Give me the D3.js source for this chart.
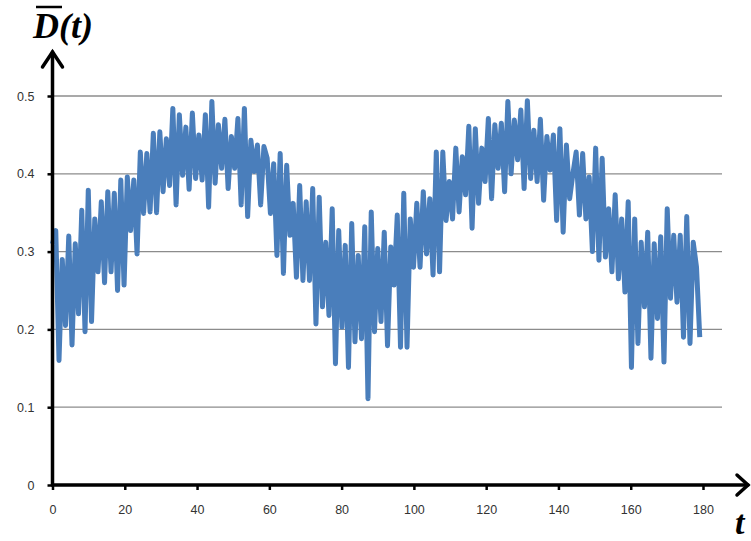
<!DOCTYPE html>
<html>
  <head>
    <meta charset="UTF-8">
    <title>D(t)</title>
    <style>
      body {
        margin: 0;
        background: #fff;
      }
      svg text.tick-label {
        font-family: Arial, "Liberation Sans", sans-serif;
        font-size: 12.5px;
        fill: #333;
      }
      .title {
        font-family: "Times New Roman", "Liberation Serif", serif;
        font-weight: bold;
        font-style: italic;
        fill: #000;
      }
    </style>
    <script src="https://d3js.org/d3.v7.min.js"></script>
  </head>
  <body>
    <div class="graph1"></div>
    <script>
      var width = 751;
      var height = 541;

      // D(t) values, one every 0.9 of t, starting at t = 0
      var tStep = 0.9;
      var values = [
        0.31, 0.327, 0.16, 0.29, 0.205, 0.32, 0.18, 0.31, 0.22, 0.353,
        0.197, 0.379, 0.21, 0.342, 0.274, 0.364, 0.26, 0.377, 0.274, 0.375,
        0.25, 0.392, 0.257, 0.396, 0.327, 0.392, 0.297, 0.428, 0.349, 0.426,
        0.351, 0.452, 0.35, 0.454, 0.377, 0.445, 0.385, 0.484, 0.36, 0.476,
        0.398, 0.46, 0.38, 0.478, 0.394, 0.45, 0.392, 0.476, 0.357, 0.493,
        0.388, 0.463, 0.407, 0.47, 0.381, 0.448, 0.407, 0.471, 0.36, 0.484,
        0.345, 0.443, 0.403, 0.437, 0.36, 0.435, 0.42, 0.349, 0.413, 0.295,
        0.426, 0.272, 0.411, 0.321, 0.362, 0.267, 0.385, 0.263, 0.364, 0.263,
        0.381, 0.207, 0.37, 0.229, 0.312, 0.218, 0.355, 0.156, 0.327, 0.203,
        0.308, 0.151, 0.336, 0.184, 0.295, 0.188, 0.332, 0.111, 0.351, 0.197,
        0.304, 0.21, 0.325, 0.179, 0.306, 0.257, 0.347, 0.177, 0.375, 0.177,
        0.342, 0.28, 0.362, 0.28, 0.377, 0.297, 0.368, 0.27, 0.428, 0.274,
        0.428, 0.34, 0.39, 0.342, 0.433, 0.351, 0.422, 0.373, 0.461, 0.33,
        0.458, 0.362, 0.433, 0.39, 0.471, 0.368, 0.463, 0.407, 0.465, 0.377,
        0.493, 0.4, 0.469, 0.418, 0.482, 0.381, 0.494, 0.394, 0.456, 0.39,
        0.47, 0.366, 0.448, 0.405, 0.45, 0.34, 0.458, 0.325, 0.437, 0.368,
        0.40, 0.428, 0.347, 0.426, 0.342, 0.396, 0.3, 0.433, 0.289, 0.42,
        0.293, 0.355, 0.274, 0.373, 0.265, 0.342, 0.248, 0.364, 0.151, 0.342,
        0.182, 0.312, 0.229, 0.325, 0.163, 0.31, 0.214, 0.319, 0.158, 0.355,
        0.24, 0.321, 0.235, 0.321, 0.19, 0.345, 0.182, 0.312, 0.28, 0.19
      ];

      var xTicks = [0, 20, 40, 60, 80, 100, 120, 140, 160, 180];
      var yTicks = [0, 0.1, 0.2, 0.3, 0.4, 0.5];
      var yTickLabels = ["0", "0.1", "0.2", "0.3", "0.4", "0.5"];

      var svg = d3.select(".graph1").append("svg")
        .attr("width", width)
        .attr("height", height);

      var xScale = d3.scaleLinear().domain([0, 180]).range([52.5, 703]);
      var yScale = d3.scaleLinear().domain([0, 0.5]).range([485, 96]);

      // grid lines
      svg.append("g")
          .attr("class", "grid")
        .selectAll("line")
          .data(yTicks.slice(1))
        .enter().append("line")
          .attr("x1", xScale(0))
          .attr("x2", 722)
          .attr("y1", function(d) { return yScale(d); })
          .attr("y2", function(d) { return yScale(d); })
          .style("stroke", "#8c8c8c")
          .style("stroke-width", 1.3);

      // the series
      var line = d3.line()
        .x(function(d, i) { return xScale(i * tStep); })
        .y(function(d) { return yScale(d); });

      svg.append("path")
        .datum(values)
        .attr("d", line)
        .style("fill", "none")
        .style("stroke", "#4a7ebb")
        .style("stroke-width", 5)
        .style("stroke-linejoin", "round");

      // y axis ticks + labels
      var yAxis = d3.axisLeft(yScale)
        .tickValues(yTicks)
        .tickFormat(function(d, i) { return yTickLabels[i]; })
        .tickSizeInner(5)
        .tickSizeOuter(0)
        .tickPadding(13);

      var gy = svg.append("g")
        .attr("transform", "translate(" + xScale(0) + ",0)")
        .call(yAxis);
      gy.select(".domain").remove();
      gy.selectAll("line").style("stroke", "#000").style("stroke-width", 2.5);
      gy.selectAll("text").attr("class", "tick-label").attr("font-family", null).attr("font-size", null);

      // x axis ticks + labels
      var xAxis = d3.axisBottom(xScale)
        .tickValues(xTicks)
        .tickSizeInner(5)
        .tickSizeOuter(0)
        .tickPadding(15);

      var gx = svg.append("g")
        .attr("transform", "translate(0," + yScale(0) + ")")
        .call(xAxis);
      gx.select(".domain").remove();
      gx.selectAll("line").style("stroke", "#000").style("stroke-width", 2.5);
      gx.selectAll("text").attr("class", "tick-label").attr("font-family", null).attr("font-size", null);

      // axis lines with arrows
      var axisStyle = function(sel) {
        sel.style("fill", "none")
          .style("stroke", "#000")
          .style("stroke-width", 3.5)
          .style("stroke-linecap", "round")
          .style("stroke-linejoin", "miter");
      };
      var x0 = xScale(0), y0 = yScale(0);
      svg.append("path")
        .attr("d", "M" + x0 + "," + y0 + "V52")
        .call(axisStyle);
      svg.append("path")
        .attr("d", "M" + (x0 - 10) + ",67L" + x0 + ",52L" + (x0 + 10) + ",67")
        .call(axisStyle);
      svg.append("path")
        .attr("d", "M" + x0 + "," + y0 + "H748")
        .call(axisStyle);
      svg.append("path")
        .attr("d", "M737," + (y0 - 10) + "L748," + y0 + "L737," + (y0 + 10))
        .call(axisStyle);

      // axis titles
      svg.append("text")
        .attr("class", "title")
        .attr("x", 33)
        .attr("y", 38)
        .style("font-size", "36px")
        .text("D(t)");
      svg.append("line")
        .attr("x1", 36).attr("x2", 62)
        .attr("y1", 7).attr("y2", 7)
        .style("stroke", "#000")
        .style("stroke-width", 2.5);

      svg.append("text")
        .attr("class", "title")
        .attr("x", 735)
        .attr("y", 534)
        .style("font-size", "34px")
        .text("t");
    </script>
  </body>
</html>
